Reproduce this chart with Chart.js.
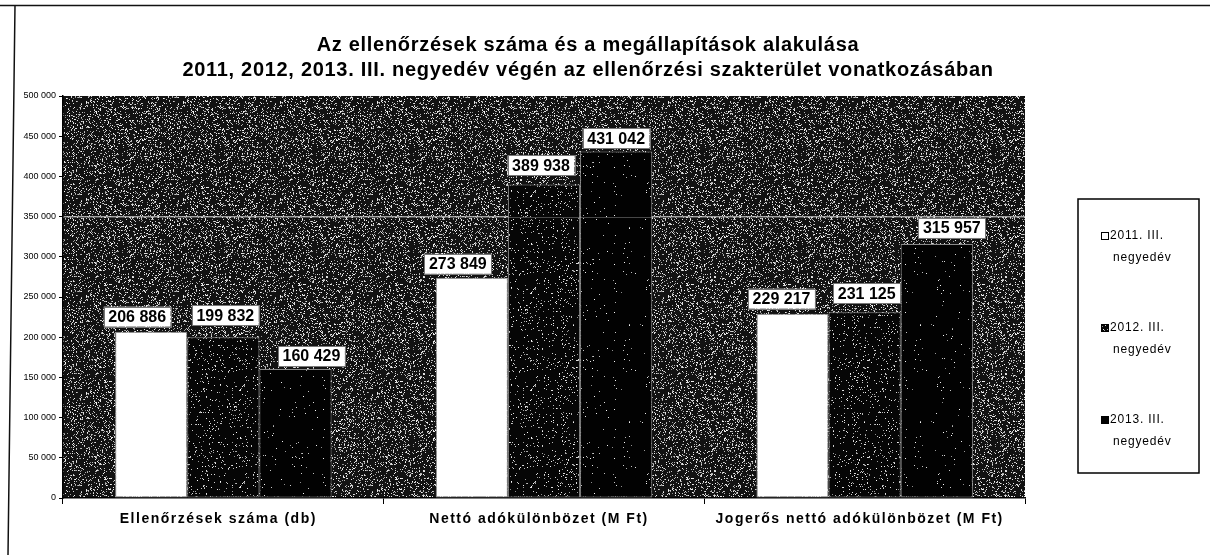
<!DOCTYPE html>
<html>
<head>
<meta charset="utf-8">
<script src="https://cdn.jsdelivr.net/npm/chart.js@4/dist/chart.umd.min.js"></script>
<style>
  body { margin: 0; background: #fff; }
  #wrap { width: 1210px; height: 555px; position: relative; }
</style>
</head>
<body>
<div id="wrap"><canvas id="chart" width="1210" height="555"></canvas></div>
<script>
// Chart data
const categories = ["Ellenőrzések száma (db)", "Nettó adókülönbözet (M Ft)", "Jogerős nettó adókülönbözet (M Ft)"];
const seriesNames = [["2011. III.", "negyedév"], ["2012. III.", "negyedév"], ["2013. III.", "negyedév"]];
const values2011 = [206886, 273849, 229217];
const values2012 = [199832, 389938, 231125];
const values2013 = [160429, 431042, 315957];
const yTicks = [0, 50000, 100000, 150000, 200000, 250000, 300000, 350000, 400000, 450000, 500000];
const titleLines = [
  "Az ellenőrzések száma és a megállapítások alakulása",
  "2011, 2012, 2013. III. negyedév végén az ellenőrzési szakterület vonatkozásában"
];

const FONT = '"Liberation Sans", Arial, sans-serif';
Chart.defaults.font.family = FONT;
Chart.defaults.color = '#000';

// scanned-look speckle texture (deterministic)
function speckle(base, density, seed) {
  const c = document.createElement('canvas');
  c.width = c.height = 97;
  const g = c.getContext('2d');
  g.fillStyle = base;
  g.fillRect(0, 0, 97, 97);
  const img = g.getImageData(0, 0, 97, 97);
  let s = seed;
  for (let i = 0; i < 97 * 97; i++) {
    s = (s * 1103515245 + 12345) & 0x7fffffff;
    if ((s >> 7) % 1000 < density * 1000) {
      const v = 140 + ((s >> 3) % 116);
      img.data[i * 4] = img.data[i * 4 + 1] = img.data[i * 4 + 2] = v;
    }
  }
  g.putImageData(img, 0, 0);
  return g.createPattern(c, 'repeat');
}

const plotFill = speckle('#121212', 0.17, 7);
const fills = ['#ffffff', speckle('#060606', 0.06, 11), speckle('#020202', 0.01, 23)];
// label box nudges (px), per dataset / per category, as placed in the original
const labelShift = [[-14, -14, -11], [2, -3, 2], [16, 0, 15]];
const labelGap = [[5, 4, 5], [12, 9, 9], [3, 3, 6]];

function fmt(v) {
  return String(v).replace(/\B(?=(\d{3})+(?!\d))/g, ' ');
}

const decor = {
  id: 'decor',
  beforeDraw(chart) {
    const ctx = chart.ctx, a = chart.chartArea;
    ctx.save();
    ctx.fillStyle = plotFill;
    ctx.fillRect(a.left, a.top, a.right - a.left, a.bottom - a.top);
    // page frame
    ctx.strokeStyle = '#111';
    ctx.lineWidth = 1.5;
    ctx.beginPath();
    ctx.moveTo(0, 5.5); ctx.lineTo(1210, 5.5);
    ctx.moveTo(15, 5); ctx.lineTo(8, 555);
    ctx.stroke();
    // title
    ctx.fillStyle = '#000';
    ctx.font = 'bold 20px ' + FONT;
    ctx.letterSpacing = '0.7px';
    ctx.textAlign = 'center';
    ctx.textBaseline = 'middle';
    ctx.fillText(titleLines[0], 588, 45);
    ctx.fillText(titleLines[1], 588, 70);
    ctx.restore();
  },
  afterDatasetsDraw(chart) {
    const ctx = chart.ctx, a = chart.chartArea;
    ctx.save();
    // faint 350 000 line shows through the bars in the original
    const yl = Math.round(chart.scales.y.getPixelForValue(350000)) + 0.5;
    ctx.strokeStyle = 'rgba(200,200,200,0.35)';
    ctx.lineWidth = 1;
    ctx.beginPath();
    ctx.moveTo(a.left, yl); ctx.lineTo(a.right, yl);
    ctx.stroke();

    ctx.font = 'bold 16px ' + FONT;
    ctx.textAlign = 'center';
    ctx.textBaseline = 'middle';
    chart.data.datasets.forEach((ds, di) => {
      chart.getDatasetMeta(di).data.forEach((bar, i) => {
        const txt = fmt(ds.data[i]);
        const w = ctx.measureText(txt).width + 9;
        const h = 20;
        const cx = bar.x + labelShift[di][i];
        const bottom = bar.y - labelGap[di][i];
        ctx.fillStyle = '#fff';
        ctx.fillRect(cx - w / 2, bottom - h, w, h);
        ctx.strokeStyle = '#777';
        ctx.lineWidth = 1;
        ctx.strokeRect(Math.round(cx - w / 2) + 0.5, Math.round(bottom - h) + 0.5, Math.round(w), h);
        ctx.fillStyle = '#000';
        ctx.fillText(txt, cx, bottom - h / 2 + 1);
      });
    });
    ctx.restore();
  },
  afterDraw(chart) {
    const ctx = chart.ctx;
    ctx.save();
    // category labels
    const xs = chart.scales.x;
    ctx.font = 'bold 14px ' + FONT;
    ctx.letterSpacing = '1.5px';
    ctx.fillStyle = '#000';
    ctx.textAlign = 'center';
    ctx.textBaseline = 'middle';
    categories.forEach((c, i) => {
      ctx.fillText(c, xs.getPixelForTick(i) - 5, chart.chartArea.bottom + 21);
    });
    // legend box
    ctx.letterSpacing = '0.8px';
    ctx.strokeStyle = '#000';
    ctx.lineWidth = 1.5;
    ctx.strokeRect(1078, 199, 121, 274);
    ctx.font = '12px ' + FONT;
    ctx.textAlign = 'left';
    const ys = [236, 328, 420];
    chart.data.datasets.forEach((ds, di) => {
      const y = ys[di];
      ctx.fillStyle = ds.backgroundColor;
      ctx.fillRect(1101, y - 4, 8, 8);
      ctx.strokeStyle = '#000';
      ctx.lineWidth = 1;
      ctx.strokeRect(1101.5, y - 3.5, 7, 7);
      ctx.fillStyle = '#000';
      ctx.fillText(seriesNames[di][0], 1110, y);
      ctx.fillText(seriesNames[di][1], 1113, y + 22);
    });
    ctx.restore();
  }
};

function makeDataset(name, data, fill) {
  return {
    label: name.join(' '),
    data: data,
    backgroundColor: fill,
    borderColor: '#8a8a8a',
    borderWidth: 1,
    borderSkipped: false,
    categoryPercentage: 0.675,
    barPercentage: 1.0
  };
}

new Chart(document.getElementById('chart'), {
  type: 'bar',
  data: {
    labels: categories,
    datasets: [
      makeDataset(seriesNames[0], values2011, fills[0]),
      makeDataset(seriesNames[1], values2012, fills[1]),
      makeDataset(seriesNames[2], values2013, fills[2])
    ]
  },
  options: {
    responsive: false,
    animation: false,
    layout: { padding: { left: 0, top: 96, right: 185, bottom: 0 } },
    plugins: {
      legend: { display: false },
      title: { display: false },
      tooltip: { enabled: false }
    },
    scales: {
      x: {
        afterFit(scale) { scale.height = 57; },
        grid: { drawOnChartArea: false, tickLength: 6, tickColor: '#000', offset: true },
        border: { display: true, color: '#000', width: 1.5 },
        ticks: { display: false }
      },
      y: {
        min: 0,
        max: 500000,
        afterFit(scale) { scale.width = 63; },
        afterBuildTicks(scale) { scale.ticks = yTicks.map(v => ({ value: v })); },
        grid: {
          color: c => (c.tick && c.tick.value === 350000) ? 'rgba(200,200,200,0.8)' : 'rgba(0,0,0,0)',
          tickColor: '#000',
          tickLength: 4
        },
        border: { display: true, color: '#000', width: 1.5 },
        ticks: { font: { size: 9 }, color: '#000', padding: 3, callback: v => fmt(v) }
      }
    }
  },
  plugins: [decor]
});
</script>
</body>
</html>
